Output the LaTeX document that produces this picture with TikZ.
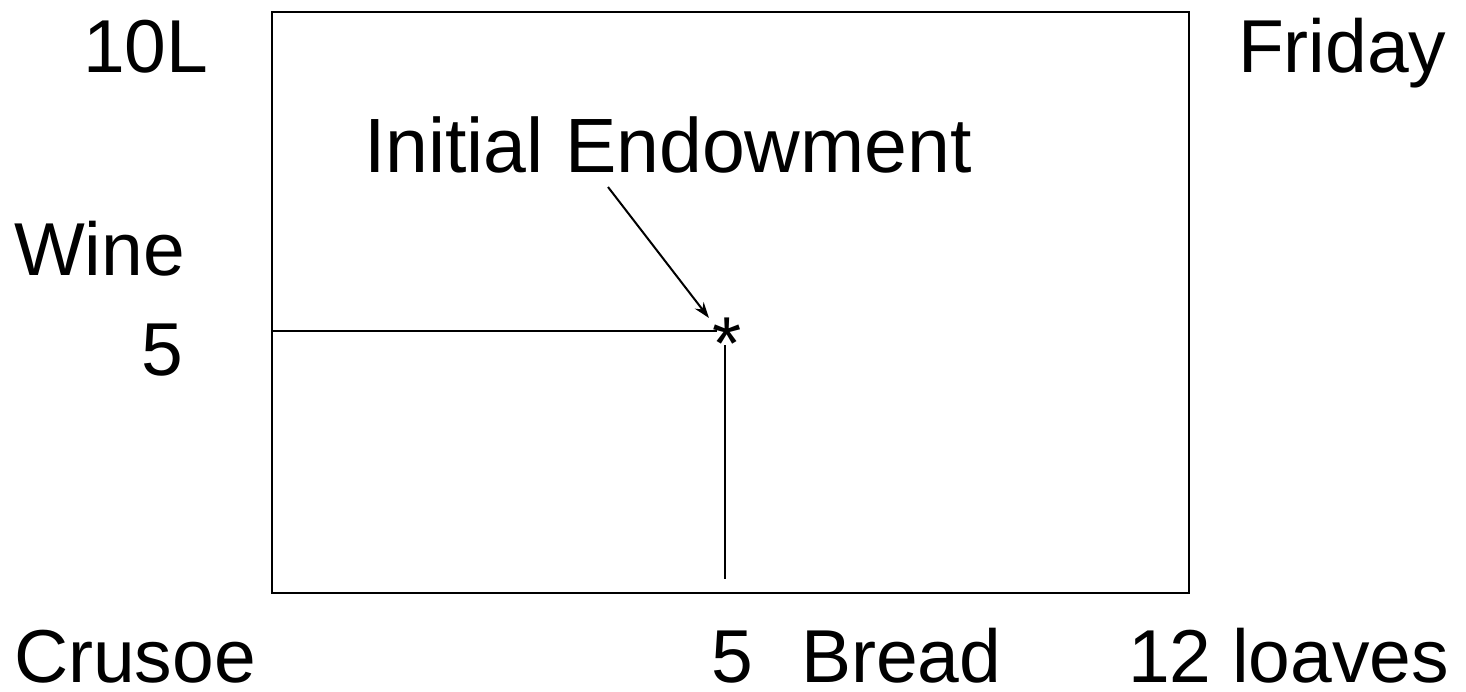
\documentclass[tikz,border=0pt]{standalone}
\usepackage{fontspec}
\setmainfont{Liberation Sans}
\usetikzlibrary{arrows.meta}
\begin{document}
\begin{tikzpicture}[x=1pt,y=-1pt,
  lbl/.style={inner sep=0pt,outer sep=0pt,anchor=base west,font=\fontsize{75}{80}\selectfont},
  frame/.style={line width=2pt,draw=black},
  guide/.style={line width=1.8pt,draw=black},
  pointer/.style={line width=2pt,-{Stealth[length=16pt,width=11pt]}}]
  \useasboundingbox (0,0) rectangle (1466,691);

  % Edgeworth box
  \coordinate (bl) at (272,593);
  \coordinate (tr) at (1189,12);
  \draw[frame] (bl) rectangle (tr);

  % axis labels
  \node[lbl] (tenL) at (83,72) {10L};
  \node[lbl] (friday) at (1238,72) {Friday};
  \node[lbl] (wine) at (14,275) {Wine};
  \node[lbl] (five) at (141,375) {5};
  \node[lbl] (crusoe) at (14,682) {Crusoe};
  \node[lbl] (fiveb) at (711,682) {5};
  \node[lbl] (bread) at (801,682) {Bread};
  \node[lbl] (twelve) at (1128,682) {12 loaves};

  % endowment point
  \node[lbl,anchor=base] (star) at (727,369) {*};
  \coordinate (wl) at (272,331);
  \coordinate (we) at (717,331);
  \coordinate (bt) at (725,345);
  \coordinate (bb) at (725,579);
  \draw[guide] (wl) -- (we);
  \draw[guide] (bt) -- (bb);

  \node[lbl,font=\fontsize{77}{80}\selectfont] (endow) at (364,172) {Initial Endowment};
  \coordinate (tail) at (608,187);
  \coordinate (tip) at (709,318);
  \draw[pointer] (tail) -- (tip);
\end{tikzpicture}
\end{document}
